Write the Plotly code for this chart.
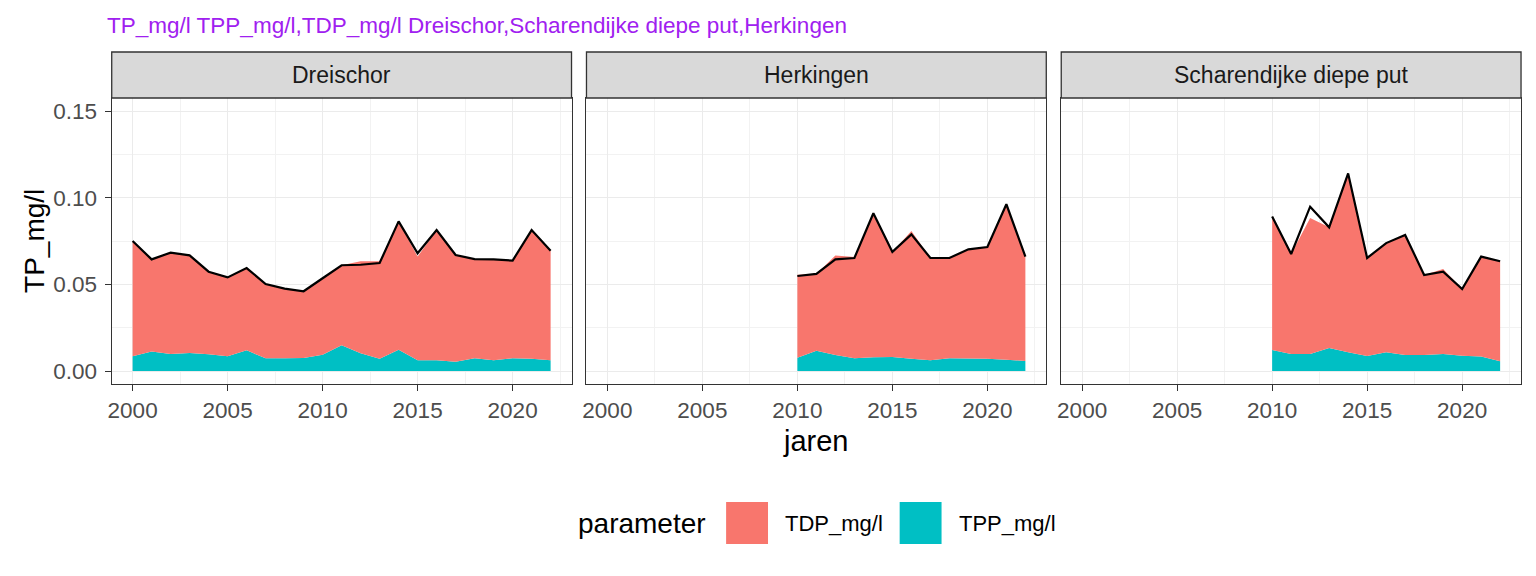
import plotly.graph_objects as go

# facetten en jaren
locaties = ["Dreischor", "Herkingen", "Scharendijke diepe put"]
jaren_dreischor = list(range(2000, 2023))
jaren_herk = list(range(2010, 2023))
jaren_schar = list(range(2010, 2023))
parameters = ["TDP_mg/l", "TPP_mg/l"]

# TP_mg/l (zwarte lijn)
tp_dreischor = [0.0750, 0.0644, 0.0683, 0.0667, 0.0573, 0.0540, 0.0594, 0.0502, 0.0475, 0.0460, 0.0535, 0.0610,
                0.0613, 0.0623, 0.0863, 0.0679, 0.0813, 0.0669, 0.0646, 0.0644, 0.0637, 0.0813, 0.0694]
tp_herk = [0.0548, 0.0560, 0.0644, 0.0652, 0.0910, 0.0687, 0.0788, 0.0652, 0.0652, 0.0702, 0.0715, 0.0962, 0.0660]
tp_schar = [0.0892, 0.0675, 0.0948, 0.0829, 0.1140, 0.0652, 0.0738, 0.0785, 0.0554, 0.0573, 0.0473, 0.0660, 0.0633]

# TPP_mg/l (onderste laag)
tpp_dreischor = [0.0085, 0.0113, 0.0098, 0.0104, 0.0096, 0.0085, 0.0119, 0.0073, 0.0073, 0.0075, 0.0094, 0.0148,
                 0.0102, 0.0071, 0.0123, 0.0062, 0.0062, 0.0054, 0.0073, 0.0062, 0.0073, 0.0071, 0.0062]
tpp_herk = [0.0077, 0.0117, 0.0092, 0.0073, 0.0079, 0.0081, 0.0071, 0.0062, 0.0073, 0.0073, 0.0071, 0.0065, 0.0058]
tpp_schar = [0.0121, 0.0098, 0.0098, 0.0133, 0.0108, 0.0087, 0.0108, 0.0092, 0.0092, 0.0098, 0.0088, 0.0083, 0.0056]

# TDP_mg/l (bovenste laag)
tdp_dreischor = [0.0665, 0.0531, 0.0585, 0.0563, 0.0477, 0.0455, 0.0475, 0.0429, 0.0402, 0.0385, 0.0441, 0.0462,
                 0.0531, 0.0562, 0.0740, 0.0598, 0.0751, 0.0615, 0.0573, 0.0582, 0.0564, 0.0742, 0.0632]
tdp_herk = [0.0479, 0.0443, 0.0575, 0.0585, 0.0831, 0.0606, 0.0737, 0.0590, 0.0579, 0.0629, 0.0644, 0.0897, 0.0602]
tdp_schar = [0.0771, 0.0577, 0.0785, 0.0696, 0.1032, 0.0565, 0.0630, 0.0693, 0.0462, 0.0490, 0.0385, 0.0577, 0.0577]

W, H = 1536, 576
FONT = "Liberation Sans, Arial, sans-serif"
ROOD = "#F8766D"
TEAL = "#00BFC4"

panelen = [
    (jaren_dreischor, tp_dreischor, tpp_dreischor, tdp_dreischor),
    (jaren_herk, tp_herk, tpp_herk, tdp_herk),
    (jaren_schar, tp_schar, tpp_schar, tdp_schar),
]
# panel grenzen in pixels
px_x = [(108, 569), (584, 1045), (1060, 1521)]
py_top, py_bot = 98, 384
strip_top = 52

fig = go.Figure()

for i, (jr, tp, tpp, tdp) in enumerate(panelen):
    n = "" if i == 0 else str(i + 1)
    xa, ya = "x" + n, "y" + n
    fig.add_trace(go.Scatter(
        x=jr, y=tpp, xaxis=xa, yaxis=ya, stackgroup="s" + str(i), mode="lines",
        line=dict(width=0, color=TEAL), fillcolor=TEAL, name=parameters[1], showlegend=False
    ))
    fig.add_trace(go.Scatter(
        x=jr, y=tdp, xaxis=xa, yaxis=ya, stackgroup="s" + str(i), mode="lines",
        line=dict(width=0, color=ROOD), fillcolor=ROOD, name=parameters[0], showlegend=False
    ))
    fig.add_trace(go.Scatter(
        x=jr, y=tp, xaxis=xa, yaxis=ya, mode="lines",
        line=dict(width=2.2, color="black"), showlegend=False
    ))

    x0, x1 = px_x[i]
    gemeen = dict(
        showline=True, mirror=True, linecolor="#333333", linewidth=1.3,
        gridcolor="#EBEBEB", gridwidth=1.1, zeroline=False,
        ticklen=6, tickcolor="#333333", tickwidth=1.1,
        tickfont=dict(family=FONT, size=22.5, color="#4D4D4D"),
    )
    fig.update_layout(**{
        "xaxis" + n: dict(
            domain=[x0 / W, x1 / W], anchor=ya, range=[1998.9, 2023.1],
            tick0=2000, dtick=5, ticks="outside",
            minor=dict(dtick=2.5, tick0=2000, showgrid=True, gridcolor="#F2F2F2", gridwidth=0.6, ticks=""),
            **gemeen
        ),
        "yaxis" + n: dict(
            domain=[1 - py_bot / H, 1 - py_top / H], anchor=xa, range=[-0.0075, 0.1575],
            tick0=0, dtick=0.05, tickformat=".2f", showticklabels=(i == 0),
            ticks="outside" if i == 0 else "", ticklabelstandoff=3,
            minor=dict(dtick=0.025, tick0=0, showgrid=True, gridcolor="#F2F2F2", gridwidth=0.6, ticks=""),
            **gemeen
        ),
    })

    # strip koppen
    fig.add_shape(type="rect", xref="paper", yref="paper",
                  x0=x0 / W, x1=x1 / W, y0=1 - py_top / H, y1=1 - strip_top / H,
                  fillcolor="#D9D9D9", line=dict(color="#333333", width=1.3))
    fig.add_annotation(text=locaties[i], xref="paper", yref="paper",
                       x=(x0 + x1) / 2 / W, y=1 - (strip_top + py_top) / 2 / H,
                       showarrow=False, font=dict(family=FONT, size=23, color="#1A1A1A"),
                       xanchor="center", yanchor="middle")

# titel en as-titels
fig.add_annotation(text="TP_mg/l TPP_mg/l,TDP_mg/l Dreischor,Scharendijke diepe put,Herkingen",
                   xref="paper", yref="paper", x=101 / W, y=1 - 25 / H, showarrow=False,
                   xanchor="left", yanchor="middle", font=dict(family=FONT, size=22.5, color="#A020F0"))
fig.add_annotation(text="jaren", xref="paper", yref="paper", x=814.5 / W, y=1 - 441 / H,
                   showarrow=False, xanchor="center", yanchor="middle",
                   font=dict(family=FONT, size=29, color="black"))
fig.add_annotation(text="TP_mg/l", xref="paper", yref="paper", x=30 / W, y=1 - 241 / H,
                   showarrow=False, textangle=-90, xanchor="center", yanchor="middle",
                   font=dict(family=FONT, size=28, color="black"))

# legenda (vierkante sleutels zoals ggplot)
fig.add_annotation(text="parameter", xref="paper", yref="paper", x=573 / W, y=1 - 523 / H,
                   showarrow=False, xanchor="left", yanchor="middle",
                   font=dict(family=FONT, size=28, color="black"))
for naam, kleur, kx, tx in [(parameters[0], ROOD, 724, 781), (parameters[1], TEAL, 898, 955)]:
    fig.add_shape(type="rect", xref="paper", yref="paper",
                  x0=kx / W, x1=(kx + 42) / W, y0=1 - 544 / H, y1=1 - 502 / H,
                  fillcolor=kleur, line=dict(width=0))
    fig.add_annotation(text=naam, xref="paper", yref="paper", x=tx / W, y=1 - 523 / H,
                       showarrow=False, xanchor="left", yanchor="middle",
                       font=dict(family=FONT, size=22, color="black"))

fig.update_layout(
    width=W, height=H,
    margin=dict(l=0, r=0, t=0, b=0),
    paper_bgcolor="white", plot_bgcolor="white",
    font=dict(family=FONT),
    showlegend=False,
)

fig.write_html("out.html", config={"displayModeBar": False},
               post_script="document.body.style.margin='0';")
